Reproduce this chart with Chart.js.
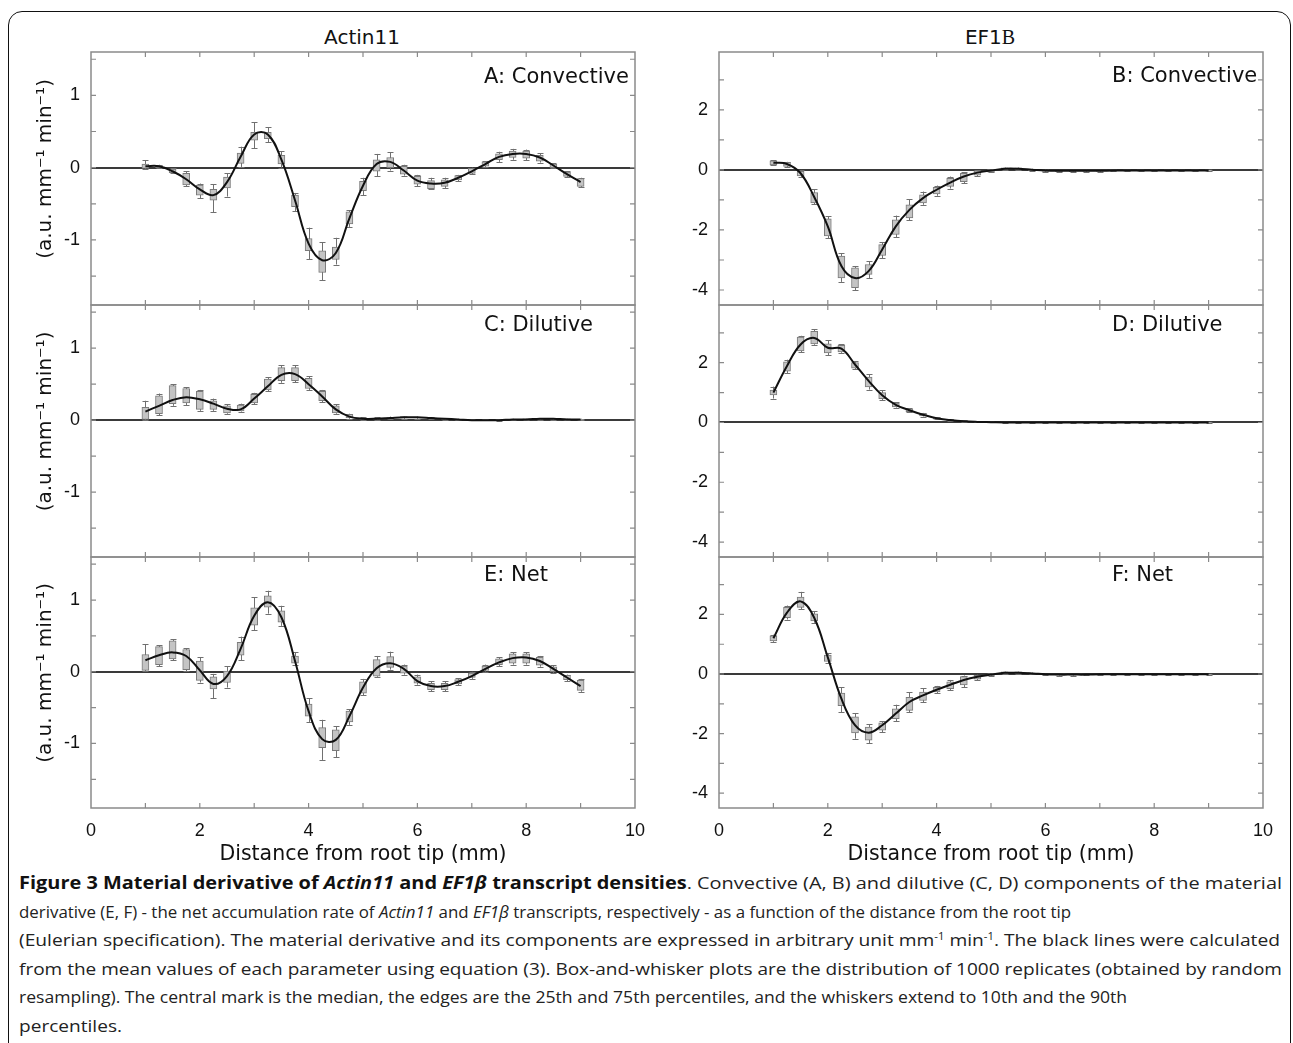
<!DOCTYPE html>
<html>
<head>
<meta charset="utf-8">
<script src="https://cdn.jsdelivr.net/npm/chart.js@4.4.1/dist/chart.umd.min.js"></script>
<style>
html,body{margin:0;padding:0;background:#fff;}
body{width:1293px;height:1043px;position:relative;overflow:hidden;font-family:"Liberation Sans",Arial,sans-serif;}
.frame{position:absolute;left:8px;top:11px;width:1283px;height:1100px;border:1.5px solid #111;border-radius:14px;box-sizing:border-box;}
canvas{position:absolute;}
.lbl{position:absolute;font-family:"DejaVu Sans",sans-serif;font-size:21px;color:#111;line-height:1;white-space:nowrap;}
.coltitle{position:absolute;font-family:"DejaVu Sans",sans-serif;font-size:20px;color:#111;line-height:1;white-space:nowrap;transform:translateX(-50%);}
.cap{position:absolute;left:19px;font-family:"Open Sans",sans-serif;font-size:17px;color:#222;white-space:nowrap;transform-origin:0 50%;line-height:1;}
.cap b{font-weight:700;color:#111;}
.cap sup{font-size:10px;vertical-align:6px;line-height:0;}
</style>
</head>
<body>
<div class="frame"></div>

<div class="coltitle" style="left:362px;top:27px;">Actin11</div>
<div class="coltitle" style="left:990px;top:27px;">EF1<span style="font-family:'Liberation Serif',serif;">B</span></div>

<canvas id="cA" width="635" height="265" style="left:10px;top:46px;"></canvas>
<canvas id="cC" width="635" height="264" style="left:10px;top:299px;"></canvas>
<canvas id="cE" width="635" height="317" style="left:10px;top:551px;"></canvas>
<canvas id="cB" width="623" height="265" style="left:650px;top:46px;"></canvas>
<canvas id="cD" width="623" height="264" style="left:650px;top:299px;"></canvas>
<canvas id="cF" width="623" height="317" style="left:650px;top:551px;"></canvas>

<div class="lbl" style="left:484px;top:66px;">A: Convective</div>
<div class="lbl" style="left:1112px;top:65px;">B: Convective</div>
<div class="lbl" style="left:484px;top:314px;">C: Dilutive</div>
<div class="lbl" style="left:1112px;top:314px;">D: Dilutive</div>
<div class="lbl" style="left:484px;top:564px;">E: Net</div>
<div class="lbl" style="left:1112px;top:564px;">F: Net</div>

<div class="cap" data-w="1263" style="top:874px;"><b>Figure 3 Material derivative of <i>Actin11</i> and <i>EF1β</i> transcript densities</b>. Convective (A, B) and dilutive (C, D) components of the material</div>
<div class="cap" data-w="1052" style="top:903px;">derivative (E, F) - the net accumulation rate of <i>Actin11</i> and <i>EF1β</i> transcripts, respectively - as a function of the distance from the root tip</div>
<div class="cap" data-w="1261" style="top:931px;">(Eulerian specification). The material derivative and its components are expressed in arbitrary unit mm<sup>-1</sup> min<sup>-1</sup>. The black lines were calculated</div>
<div class="cap" data-w="1263" style="top:960px;">from the mean values of each parameter using equation (3). Box-and-whisker plots are the distribution of 1000 replicates (obtained by random</div>
<div class="cap" data-w="1108" style="top:988px;">resampling). The central mark is the median, the edges are the 25th and 75th percentiles, and the whiskers extend to 10th and the 90th</div>
<div class="cap" data-w="103" style="top:1017px;">percentiles.</div>

<script>
// ---------------- DATA ----------------
const positions = [1,1.25,1.5,1.75,2,2.25,2.5,2.75,3,3.25,3.5,3.75,4,4.25,4.5,4.75,5,5.25,5.5,5.75,6,6.25,6.5,6.75,7,7.25,7.5,7.75,8,8.25,8.5,8.75,9];
const xTickLabels = [0,2,4,6,8,10];
const xMinorTicks = [1,2,3,4,5,6,7,8,9];
const yTicksActin = [-1,0,1];
const yMinorActin = [-1.5,-1,-0.5,0,0.5,1,1.5];
const yTicksEF = [-4,-2,0,2];
const yMinorEF = [-4,-3,-2,-1,0,1,2,3];

// A: Actin11 convective
const aLine = [0.02,0.02,-0.05,-0.16,-0.30,-0.38,-0.20,0.15,0.46,0.46,0.11,-0.45,-1.05,-1.28,-1.18,-0.70,-0.25,0.05,0.08,-0.04,-0.18,-0.22,-0.21,-0.14,-0.05,0.05,0.15,0.19,0.19,0.14,0.03,-0.09,-0.20];
const aQ3 = [0.05,0.03,-0.02,-0.08,-0.24,-0.30,-0.13,0.20,0.49,0.49,0.17,-0.38,-0.98,-1.15,-1.10,-0.61,-0.19,0.11,0.14,0.02,-0.12,-0.18,-0.17,-0.11,-0.01,0.08,0.19,0.23,0.23,0.17,0.05,-0.06,-0.15];
const aQ1 = [-0.01,0.00,-0.07,-0.24,-0.38,-0.45,-0.28,0.06,0.38,0.40,0.05,-0.54,-1.15,-1.45,-1.27,-0.78,-0.32,-0.05,0.00,-0.09,-0.23,-0.29,-0.26,-0.17,-0.08,0.02,0.11,0.14,0.13,0.09,0.00,-0.12,-0.26];
const aW90 = [0.10,0.04,-0.01,-0.05,-0.22,-0.23,-0.08,0.29,0.63,0.56,0.23,-0.35,-0.83,-1.03,-0.97,-0.59,-0.14,0.19,0.21,0.04,-0.10,-0.14,-0.14,-0.10,0.00,0.09,0.22,0.26,0.25,0.20,0.06,-0.05,-0.14];
const aW10 = [-0.02,-0.01,-0.08,-0.26,-0.42,-0.62,-0.40,0.01,0.27,0.35,0.00,-0.60,-1.27,-1.56,-1.34,-0.82,-0.38,-0.12,-0.04,-0.11,-0.26,-0.30,-0.28,-0.19,-0.09,0.01,0.08,0.11,0.10,0.07,-0.01,-0.13,-0.27];

// C: Actin11 dilutive
const cLine = [0.12,0.20,0.28,0.32,0.29,0.23,0.16,0.15,0.30,0.47,0.63,0.64,0.50,0.33,0.15,0.05,0.02,0.02,0.03,0.04,0.04,0.03,0.02,0.01,0.00,0.00,0.00,0.01,0.01,0.02,0.02,0.01,0.01];
const cQ3 = [0.18,0.34,0.48,0.44,0.40,0.27,0.20,0.21,0.36,0.57,0.73,0.73,0.58,0.40,0.20,0.08,0.03,0.03,0.04,0.05,0.04,0.03,0.02,0.01,0.01,0.01,0.01,0.01,0.02,0.02,0.02,0.02,0.01];
const cQ1 = [0.01,0.09,0.23,0.24,0.15,0.15,0.10,0.13,0.24,0.42,0.55,0.55,0.44,0.27,0.10,0.03,0.01,0.01,0.02,0.03,0.03,0.02,0.01,0.00,0.00,0.00,0.00,0.00,0.01,0.01,0.01,0.00,0.00];
const cW90 = [0.27,0.37,0.50,0.46,0.42,0.30,0.22,0.23,0.38,0.60,0.76,0.76,0.61,0.42,0.22,0.09,0.04,0.04,0.05,0.05,0.05,0.04,0.03,0.02,0.01,0.01,0.01,0.02,0.02,0.03,0.03,0.02,0.02];
const cW10 = [0.00,0.07,0.20,0.21,0.13,0.13,0.09,0.12,0.22,0.40,0.52,0.53,0.42,0.25,0.09,0.02,0.00,0.00,0.01,0.02,0.02,0.01,0.00,0.00,0.00,0.00,-0.01,0.00,0.00,0.00,0.00,0.00,0.00];

// E: Actin11 net
const eLine = [0.16,0.23,0.27,0.22,0.02,-0.17,-0.06,0.32,0.78,0.97,0.76,0.15,-0.55,-0.94,-0.95,-0.62,-0.22,0.05,0.12,0.04,-0.13,-0.20,-0.20,-0.14,-0.06,0.04,0.13,0.19,0.20,0.15,0.04,-0.08,-0.20];
const eQ3 = [0.24,0.35,0.43,0.31,0.15,-0.07,0.01,0.41,0.89,1.06,0.85,0.22,-0.45,-0.78,-0.81,-0.55,-0.14,0.17,0.21,0.08,-0.07,-0.16,-0.16,-0.11,-0.02,0.08,0.18,0.25,0.25,0.20,0.07,-0.05,-0.12];
const eQ1 = [0.02,0.10,0.18,0.03,-0.12,-0.24,-0.15,0.23,0.65,0.90,0.69,0.12,-0.62,-1.06,-1.10,-0.70,-0.30,-0.06,0.06,-0.02,-0.16,-0.25,-0.25,-0.17,-0.08,0.02,0.10,0.12,0.12,0.09,0.00,-0.11,-0.26];
const eW90 = [0.38,0.37,0.45,0.33,0.20,-0.03,0.08,0.49,1.04,1.13,0.92,0.27,-0.37,-0.67,-0.76,-0.52,-0.10,0.22,0.28,0.10,-0.04,-0.13,-0.13,-0.09,0.00,0.10,0.20,0.27,0.27,0.22,0.09,-0.04,-0.10];
const eW10 = [0.01,0.08,0.16,0.01,-0.15,-0.37,-0.22,0.16,0.58,0.81,0.64,0.09,-0.70,-1.23,-1.19,-0.74,-0.33,-0.07,0.03,-0.04,-0.18,-0.27,-0.27,-0.19,-0.10,0.00,0.08,0.10,0.10,0.07,-0.02,-0.13,-0.28];

// B: EF1B convective
const bLine = [0.24,0.20,-0.11,-0.90,-1.88,-3.20,-3.60,-3.37,-2.65,-1.88,-1.33,-0.94,-0.66,-0.42,-0.22,-0.09,-0.02,0.04,0.04,0.01,-0.02,-0.03,-0.03,-0.03,-0.03,-0.02,-0.02,-0.02,-0.02,-0.02,-0.02,-0.02,-0.02];
const bQ3 = [0.30,0.25,-0.05,-0.75,-1.63,-2.87,-3.26,-3.15,-2.49,-1.66,-1.16,-0.83,-0.58,-0.28,-0.11,-0.03,0.01,0.07,0.07,0.03,0.00,-0.01,-0.01,-0.01,-0.01,0.00,0.00,0.00,0.00,0.00,0.00,0.00,0.00];
const bQ1 = [0.17,0.12,-0.20,-1.10,-2.20,-3.60,-3.92,-3.48,-2.85,-2.15,-1.60,-1.10,-0.80,-0.55,-0.39,-0.17,-0.07,0.00,0.00,-0.02,-0.05,-0.06,-0.06,-0.05,-0.05,-0.04,-0.04,-0.04,-0.04,-0.04,-0.04,-0.04,-0.04];
const bW90 = [0.32,0.27,0.00,-0.65,-1.55,-2.78,-3.20,-3.05,-2.40,-1.52,-0.98,-0.72,-0.52,-0.22,-0.08,-0.01,0.02,0.08,0.08,0.04,0.01,0.00,0.00,0.00,0.00,0.00,0.00,0.00,0.00,0.00,0.00,0.00,0.00];
const bW10 = [0.15,0.10,-0.24,-1.15,-2.27,-3.73,-4.00,-3.60,-2.95,-2.24,-1.68,-1.16,-0.86,-0.62,-0.44,-0.20,-0.08,-0.01,-0.01,-0.03,-0.06,-0.07,-0.07,-0.06,-0.06,-0.05,-0.05,-0.05,-0.05,-0.05,-0.05,-0.05,-0.05];

// D: EF1B dilutive
const dLine = [1.00,1.89,2.61,2.83,2.50,2.47,1.94,1.39,0.91,0.59,0.41,0.26,0.14,0.08,0.04,0.02,0.01,0.00,0.00,0.00,0.00,0.00,0.00,0.00,0.00,0.00,0.00,0.00,0.00,0.00,0.00,0.00,0.00];
const dQ3 = [1.08,2.03,2.86,3.05,2.63,2.58,2.00,1.52,1.00,0.65,0.46,0.30,0.17,0.10,0.06,0.03,0.02,0.01,0.01,0.01,0.01,0.01,0.01,0.01,0.01,0.01,0.01,0.01,0.01,0.01,0.01,0.01,0.01];
const dQ1 = [0.92,1.72,2.39,2.63,2.33,2.36,1.82,1.19,0.80,0.52,0.36,0.22,0.11,0.06,0.03,0.01,0.00,-0.01,-0.01,-0.01,-0.01,-0.01,-0.01,-0.01,-0.01,-0.01,-0.01,-0.01,-0.01,-0.01,-0.01,-0.01,-0.01];
const dW90 = [1.20,2.10,2.90,3.12,2.75,2.62,2.05,1.62,1.08,0.68,0.48,0.32,0.18,0.11,0.07,0.04,0.02,0.01,0.01,0.01,0.01,0.01,0.01,0.01,0.01,0.01,0.01,0.01,0.01,0.01,0.01,0.01,0.01];
const dW10 = [0.80,1.65,2.35,2.60,2.25,2.33,1.78,1.10,0.75,0.50,0.34,0.20,0.10,0.05,0.02,0.00,0.00,-0.01,-0.01,-0.01,-0.01,-0.01,-0.01,-0.01,-0.01,-0.01,-0.01,-0.01,-0.01,-0.01,-0.01,-0.01,-0.01];

// F: EF1B net
const fLine = [1.20,2.06,2.44,1.89,0.56,-0.83,-1.72,-1.97,-1.72,-1.33,-0.94,-0.72,-0.53,-0.36,-0.20,-0.09,-0.02,0.04,0.04,0.02,-0.01,-0.02,-0.02,-0.02,-0.01,-0.01,-0.01,-0.01,-0.01,-0.01,-0.01,-0.01,-0.01];
const fQ3 = [1.28,2.24,2.58,2.02,0.64,-0.64,-1.44,-1.78,-1.64,-1.17,-0.78,-0.61,-0.45,-0.26,-0.09,-0.04,0.01,0.07,0.07,0.04,0.00,-0.01,-0.01,-0.01,0.00,0.00,0.00,0.00,0.00,0.00,0.00,0.00,0.00];
const fQ1 = [1.11,1.89,2.24,1.78,0.42,-1.06,-1.98,-2.22,-1.89,-1.50,-1.22,-0.89,-0.60,-0.49,-0.37,-0.17,-0.05,0.01,0.01,0.00,-0.03,-0.04,-0.04,-0.03,-0.03,-0.03,-0.03,-0.03,-0.03,-0.03,-0.03,-0.03,-0.03];
const fW90 = [1.32,2.30,2.76,2.10,0.70,-0.44,-1.31,-1.69,-1.58,-1.03,-0.61,-0.47,-0.40,-0.20,-0.05,-0.02,0.02,0.08,0.08,0.05,0.01,0.00,0.00,0.00,0.00,0.00,0.00,0.00,0.00,0.00,0.00,0.00,0.00];
const fW10 = [1.08,1.83,2.17,1.72,0.36,-1.28,-2.17,-2.33,-1.95,-1.58,-1.28,-0.94,-0.64,-0.55,-0.44,-0.20,-0.06,0.00,0.00,-0.01,-0.04,-0.05,-0.05,-0.04,-0.04,-0.04,-0.04,-0.04,-0.04,-0.04,-0.04,-0.04,-0.04];

// ---------------- DRAWING ----------------
const FRAME = '#8a8a8a';

const boxPlugin = {
  id: 'boxw',
  beforeDatasetsDraw(chart, args, o) {
    const {ctx, chartArea: ca, scales: {x, y}} = chart;
    ctx.save();
    ctx.beginPath(); ctx.rect(ca.left, ca.top, ca.right - ca.left, ca.bottom - ca.top); ctx.clip();
    const y0 = Math.round(y.getPixelForValue(0));
    ctx.strokeStyle = '#3a3a3a'; ctx.lineWidth = 2;
    ctx.beginPath(); ctx.moveTo(ca.left, y0); ctx.lineTo(ca.right, y0); ctx.stroke();
    ctx.strokeStyle = '#707070'; ctx.lineWidth = 1;
    ctx.beginPath();
    positions.forEach((p, i) => {
      const px = Math.round(x.getPixelForValue(p)) + 0.5;
      const yl = y.getPixelForValue(o.lo[i]), yh = y.getPixelForValue(o.hi[i]);
      ctx.moveTo(px, yl); ctx.lineTo(px, yh);
      ctx.moveTo(px - 3, Math.round(yl) + 0.5); ctx.lineTo(px + 3, Math.round(yl) + 0.5);
      ctx.moveTo(px - 3, Math.round(yh) + 0.5); ctx.lineTo(px + 3, Math.round(yh) + 0.5);
    });
    ctx.stroke();
    ctx.restore();
  },
  afterDraw(chart, args, o) {
    const {ctx, chartArea: ca, scales: {x, y}} = chart;
    ctx.save();
    ctx.strokeStyle = FRAME; ctx.lineWidth = 1.5;
    ctx.strokeRect(ca.left, ca.top, ca.right - ca.left, ca.bottom - ca.top);
    ctx.lineWidth = 1.2;
    ctx.beginPath();
    const L = 5;
    o.yMinor.forEach(v => {
      const py = y.getPixelForValue(v);
      if (py <= ca.top + 1 || py >= ca.bottom - 1) return;
      ctx.moveTo(ca.left, py); ctx.lineTo(ca.left + L, py);
      ctx.moveTo(ca.right, py); ctx.lineTo(ca.right - L, py);
    });
    xMinorTicks.forEach(v => {
      const px = x.getPixelForValue(v);
      ctx.moveTo(px, ca.top); ctx.lineTo(px, ca.top + L);
      ctx.moveTo(px, ca.bottom); ctx.lineTo(px, ca.bottom - L);
    });
    ctx.stroke();
    ctx.restore();
  }
};

function makePanel(id, cfg) {
  const lineData = positions.map((p, i) => ({x: p, y: cfg.line[i]}));
  const boxData = positions.map((p, i) => ({x: p, y: [cfg.q1[i], cfg.q3[i]]}));
  new Chart(document.getElementById(id), {
    type: 'bar',
    data: {
      datasets: [
        {type: 'line', data: lineData, borderColor: '#111', borderWidth: 2, pointRadius: 0, tension: 0.4, fill: false, order: 0},
        {type: 'bar', data: boxData, backgroundColor: '#c4c4c4', borderColor: '#7a7a7a', borderWidth: 1, borderSkipped: false, barThickness: 7, grouped: false, order: 1}
      ]
    },
    options: {
      responsive: false, animation: false, events: [],
      layout: {padding: {left: 0, right: 10, top: 6, bottom: cfg.bottom ? 0 : 6}},
      plugins: {
        legend: {display: false}, tooltip: {enabled: false},
        boxw: {lo: cfg.w10, hi: cfg.w90, yMinor: cfg.yMinor}
      },
      scales: {
        x: {
          type: 'linear', min: 0, max: 10, offset: false, display: !!cfg.bottom,
          grid: {display: false, drawTicks: false}, border: {display: false},
          ticks: {color: '#111', padding: 12, font: {family: 'Liberation Sans, Arial', size: 18}, maxRotation: 0, autoSkip: false},
          afterBuildTicks: s => { s.ticks = xTickLabels.map(v => ({value: v})); },
          afterFit: s => { if (cfg.bottom) s.height = 60; s.paddingLeft = 0; s.paddingRight = 0; },
          title: {display: true, text: 'Distance from root tip (mm)', color: '#111', font: {family: 'DejaVu Sans', size: 20.5}, padding: {top: 0, bottom: 1}}
        },
        y: {
          min: cfg.ymin, max: cfg.ymax,
          grid: {display: false, drawTicks: false}, border: {display: false},
          ticks: {color: '#111', padding: 11, font: {family: 'Liberation Sans, Arial', size: 18}, autoSkip: false},
          afterBuildTicks: s => { s.ticks = cfg.yTicks.map(v => ({value: v})); },
          afterFit: s => { s.width = cfg.yw; s.paddingTop = 0; s.paddingBottom = 0; },
          title: {display: !!cfg.ytitle, text: '   (a.u. mm⁻¹ min⁻¹)', color: '#111', font: {family: 'DejaVu Sans', size: 20}, padding: {top: 24, bottom: 0}}
        }
      }
    },
    plugins: [boxPlugin]
  });
}

const L = {ymin: -1.9, ymax: 1.6, yTicks: yTicksActin, yMinor: yMinorActin, yw: 81, ytitle: true};
const R = {ymin: -4.5, ymax: 3.93, yTicks: yTicksEF, yMinor: yMinorEF, yw: 69, ytitle: false};

function draw() {
  makePanel('cA', Object.assign({}, L, {line: aLine, q1: aQ1, q3: aQ3, w10: aW10, w90: aW90}));
  makePanel('cC', Object.assign({}, L, {line: cLine, q1: cQ1, q3: cQ3, w10: cW10, w90: cW90}));
  makePanel('cE', Object.assign({}, L, {line: eLine, q1: eQ1, q3: eQ3, w10: eW10, w90: eW90, bottom: true}));
  makePanel('cB', Object.assign({}, R, {line: bLine, q1: bQ1, q3: bQ3, w10: bW10, w90: bW90}));
  makePanel('cD', Object.assign({}, R, {line: dLine, q1: dQ1, q3: dQ3, w10: dW10, w90: dW90}));
  makePanel('cF', Object.assign({}, R, {line: fLine, q1: fQ1, q3: fQ3, w10: fW10, w90: fW90, bottom: true}));
  document.querySelectorAll('.cap').forEach(el => {
    const w = el.getBoundingClientRect().width;
    const target = parseFloat(el.dataset.w);
    el.style.transform = 'scaleX(' + (target / w).toFixed(4) + ')';
  });
}
if (document.fonts && document.fonts.ready) { document.fonts.ready.then(draw); } else { draw(); }
</script>
</body>
</html>
